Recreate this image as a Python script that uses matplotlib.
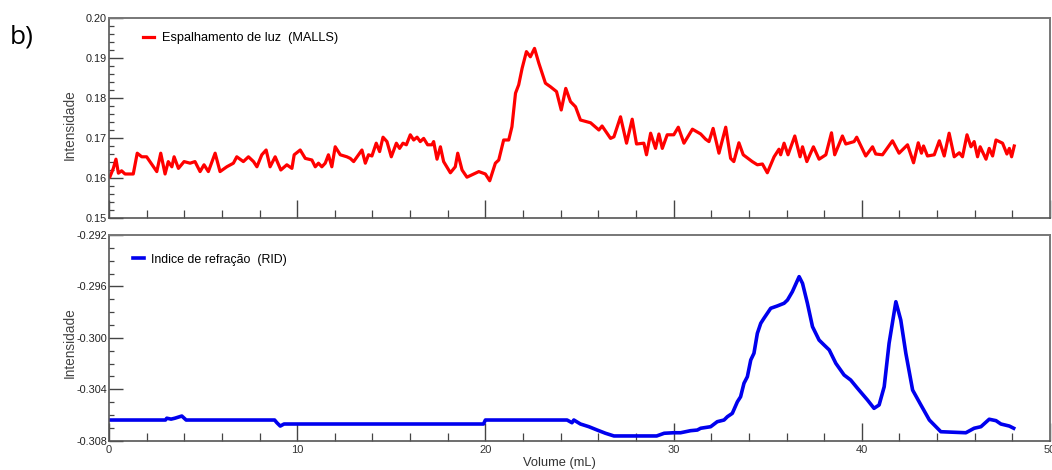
import numpy as np
import matplotlib
matplotlib.use('Agg')
import matplotlib.pyplot as plt
from matplotlib.ticker import MultipleLocator, FormatStrFormatter

plt.rcParams['font.family'] = ['Liberation Sans', 'DejaVu Sans']
plt.rcParams['axes.unicode_minus'] = False

# light scattering (MALLS) trace
malls_vol = [0.05, 0.23, 0.37, 0.5, 0.67, 0.85, 1.29, 1.5, 1.74, 2.0, 2.54, 2.75, 2.98, 3.15,
             3.34, 3.46, 3.69, 3.99, 4.31, 4.57, 4.84, 5.05, 5.28, 5.64, 5.9, 6.26, 6.61, 6.79,
             7.14, 7.41, 7.68, 7.86, 8.12, 8.35, 8.56, 8.83, 9.13, 9.45, 9.72, 9.84, 10.16,
             10.43, 10.78, 10.96, 11.13, 11.31, 11.49, 11.66, 11.84, 12.02, 12.29, 12.64, 12.82,
             13.0, 13.44, 13.62, 13.79, 13.97, 14.2, 14.38, 14.56, 14.77, 15.0, 15.27, 15.44,
             15.62, 15.8, 16.01, 16.19, 16.37, 16.54, 16.72, 16.93, 17.16, 17.25, 17.43, 17.61,
             17.78, 18.14, 18.4, 18.53, 18.76, 19.02, 19.29, 19.65, 20.0, 20.23, 20.53, 20.71,
             20.97, 21.24, 21.41, 21.6, 21.77, 21.95, 22.18, 22.39, 22.61, 22.84, 23.19, 23.46,
             23.78, 24.03, 24.27, 24.52, 24.79, 25.05, 25.59, 26.03, 26.2, 26.65, 26.83, 27.18,
             27.5, 27.8, 28.03, 28.42, 28.56, 28.78, 29.04, 29.22, 29.4, 29.66, 30.01, 30.25,
             30.55, 31.0, 31.44, 31.7, 31.88, 32.1, 32.41, 32.77, 33.03, 33.2, 33.47, 33.7,
             34.18, 34.45, 34.72, 34.98, 35.34, 35.6, 35.69, 35.87, 36.08, 36.44, 36.72, 36.85,
             37.08, 37.43, 37.73, 38.09, 38.39, 38.56, 38.97, 39.15, 39.59, 39.73, 40.21, 40.57,
             40.74, 41.1, 41.63, 41.98, 42.43, 42.75, 43.0, 43.17, 43.28, 43.49, 43.85, 44.12,
             44.38, 44.64, 44.91, 45.18, 45.35, 45.59, 45.8, 45.97, 46.15, 46.29, 46.6, 46.77,
             46.95, 47.13, 47.48, 47.71, 47.84, 47.96, 48.1]
malls_int = [0.1603, 0.1624, 0.1647, 0.1612, 0.1618, 0.1610, 0.1610, 0.1662, 0.1653, 0.1653,
             0.1616, 0.1662, 0.1610, 0.1641, 0.1628, 0.1653, 0.1624, 0.1641, 0.1637, 0.1641,
             0.1616, 0.1633, 0.1616, 0.1662, 0.1616, 0.1628, 0.1637, 0.1653, 0.1641, 0.1653,
             0.1641, 0.1628, 0.1658, 0.1670, 0.1628, 0.1653, 0.1620, 0.1633, 0.1624, 0.1658,
             0.1670, 0.1649, 0.1645, 0.1628, 0.1637, 0.1628, 0.1637, 0.1658, 0.1628, 0.1678,
             0.1658, 0.1653, 0.1649, 0.1641, 0.1670, 0.1637, 0.1658, 0.1655, 0.1687, 0.1666,
             0.1702, 0.1691, 0.1653, 0.1687, 0.1674, 0.1687, 0.1683, 0.1708, 0.1695, 0.1702,
             0.1691, 0.1699, 0.1683, 0.1683, 0.1691, 0.1647, 0.1678, 0.1641, 0.1613, 0.1628,
             0.1662, 0.1620, 0.1602, 0.1608, 0.1616, 0.1610, 0.1593, 0.1637, 0.1645, 0.1695,
             0.1695, 0.1728, 0.1812, 0.1833, 0.1874, 0.1916, 0.1903, 0.1924, 0.1887, 0.1837,
             0.1828, 0.1816, 0.1770, 0.1824, 0.1791, 0.1778, 0.1745, 0.1738, 0.1720, 0.1730,
             0.1699, 0.1703, 0.1753, 0.1687, 0.1747, 0.1685, 0.1687, 0.1658, 0.1712, 0.1674,
             0.1710, 0.1674, 0.1708, 0.1708, 0.1727, 0.1687, 0.1722, 0.1710, 0.1697, 0.1691,
             0.1724, 0.1662, 0.1727, 0.1649, 0.1641, 0.1688, 0.1658, 0.1641, 0.1633, 0.1635,
             0.1613, 0.1653, 0.1672, 0.1658, 0.1687, 0.1658, 0.1705, 0.1653, 0.1678, 0.1641,
             0.1678, 0.1647, 0.1658, 0.1713, 0.1658, 0.1705, 0.1685, 0.1691, 0.1702, 0.1655,
             0.1678, 0.1660, 0.1658, 0.1693, 0.1662, 0.1683, 0.1638, 0.1688, 0.1662, 0.1680,
             0.1655, 0.1658, 0.1693, 0.1655, 0.1712, 0.1653, 0.1663, 0.1653, 0.1708, 0.1678,
             0.1691, 0.1653, 0.1678, 0.1647, 0.1674, 0.1655, 0.1695, 0.1687, 0.1660, 0.1674,
             0.1653, 0.1680]

# refractive index (RID) trace
rid_vol = [0.0, 3.0, 3.07, 3.3, 3.5, 3.87, 4.1, 8.8, 8.92, 9.1, 9.3, 19.9, 20.0, 24.34,
           24.6, 24.7, 25.05, 25.5, 25.94, 26.38, 26.83, 29.1, 29.5, 30.0, 30.37, 30.9, 31.26,
           31.44, 31.97, 32.32, 32.68, 32.86, 33.12, 33.39, 33.56, 33.74, 33.92, 34.1, 34.27,
           34.45, 34.63, 34.8, 35.16, 35.51, 35.87, 36.05, 36.31, 36.67, 36.85, 37.11, 37.38,
           37.73, 38.0, 38.27, 38.62, 39.06, 39.41, 39.77, 40.3, 40.65, 40.92, 41.19, 41.45,
           41.81, 42.07, 42.34, 42.7, 43.14, 43.59, 44.2, 45.53, 45.97, 46.33, 46.77, 47.13,
           47.39, 47.84, 48.07]
rid_int = [-0.30639, -0.30639, -0.30625, -0.30632, -0.30625, -0.30608, -0.30639, -0.30639,
           -0.30660, -0.30686, -0.30670, -0.30670, -0.30639, -0.30639, -0.30660, -0.30639,
           -0.30670, -0.30691, -0.30717, -0.30742, -0.30763, -0.30763, -0.30742, -0.30738,
           -0.30738, -0.30722, -0.30717, -0.30703, -0.30691, -0.30652, -0.30639, -0.30613,
           -0.30587, -0.30497, -0.30458, -0.30353, -0.30302, -0.30172, -0.30120, -0.29965,
           -0.29887, -0.29848, -0.29770, -0.29752, -0.29731, -0.29706, -0.29641, -0.29524,
           -0.29576, -0.29731, -0.29913, -0.30017, -0.30056, -0.30094, -0.30198, -0.30289,
           -0.30328, -0.30392, -0.30483, -0.30548, -0.30522, -0.30380, -0.30042, -0.29719,
           -0.29861, -0.30120, -0.30406, -0.30522, -0.30639, -0.30730, -0.30738, -0.30703,
           -0.30691, -0.30633, -0.30644, -0.30670, -0.30686, -0.30703]

fig = plt.figure(figsize=(10.52, 4.70), dpi=100)
ax1 = fig.add_axes([0.1036, 0.5362, 0.8945, 0.4255])
ax2 = fig.add_axes([0.1036, 0.0623, 0.8945, 0.4377])

ax1.plot(malls_vol, malls_int, color='#ff0000', lw=2.3, label='Espalhamento de luz  (MALLS)')
ax2.plot(rid_vol, rid_int, color='#0000ee', lw=2.6, label='Indice de refração  (RID)')

ax1.set_ylim(0.15, 0.20)
ax2.set_ylim(-0.308, -0.292)
ax1.yaxis.set_major_locator(MultipleLocator(0.01))
ax1.yaxis.set_minor_locator(MultipleLocator(0.002))
ax1.yaxis.set_major_formatter(FormatStrFormatter('%.2f'))
ax2.yaxis.set_major_locator(MultipleLocator(0.004))
ax2.yaxis.set_minor_locator(MultipleLocator(0.001))
ax2.yaxis.set_major_formatter(FormatStrFormatter('%.3f'))

for ax in (ax1, ax2):
    ax.set_xlim(0, 50)
    ax.xaxis.set_major_locator(MultipleLocator(10))
    ax.xaxis.set_minor_locator(MultipleLocator(2))
    ax.tick_params(axis='x', which='major', direction='in', length=13, width=1.0,
                   color='#444444', labelsize=8, labelcolor='#333333', pad=3)
    ax.tick_params(axis='x', which='minor', direction='in', length=5.8, width=0.9,
                   color='#444444')
    ax.tick_params(axis='y', which='major', direction='in', length=10, width=1.0,
                   color='#444444', labelsize=7.8, labelcolor='#222222', pad=1.5)
    ax.tick_params(axis='y', which='minor', direction='in', length=3.6, width=0.9,
                   color='#444444')
    for side in ['top', 'right']:
        ax.spines[side].set_color('#777777')
        ax.spines[side].set_linewidth(1.4)
    for side in ['left', 'bottom']:
        ax.spines[side].set_color('#555555')
        ax.spines[side].set_linewidth(1.2)

ax1.tick_params(axis='x', labelbottom=False)

ax1.legend(loc='center left', bbox_to_anchor=(0.036, 0.9), frameon=False, fontsize=9.2,
           handlelength=0.9, handletextpad=0.6, borderpad=0, borderaxespad=0)
ax2.legend(loc='center left', bbox_to_anchor=(0.025, 0.88), frameon=False, fontsize=8.9,
           handlelength=0.9, handletextpad=0.6, borderpad=0, borderaxespad=0)

ax2.set_xlabel('Volume (mL)', fontsize=9.3, color='#333333')
ax2.xaxis.set_label_coords((559 - 109) / 941, -0.08)
ax2.xaxis.label.set_va('top')

fig.text(70 / 1052, 1 - 125 / 470, 'Intensidade', rotation=90, fontsize=9.8,
         color='#444444', ha='center', va='center')
fig.text(70 / 1052, 1 - 343 / 470, 'Intensidade', rotation=90, fontsize=9.8,
         color='#444444', ha='center', va='center')

fig.text(22 / 1052, 1 - 37 / 470, 'b)', fontsize=19, family='Open Sans',
         ha='center', va='center')

fig.savefig('out.png', dpi=100)
